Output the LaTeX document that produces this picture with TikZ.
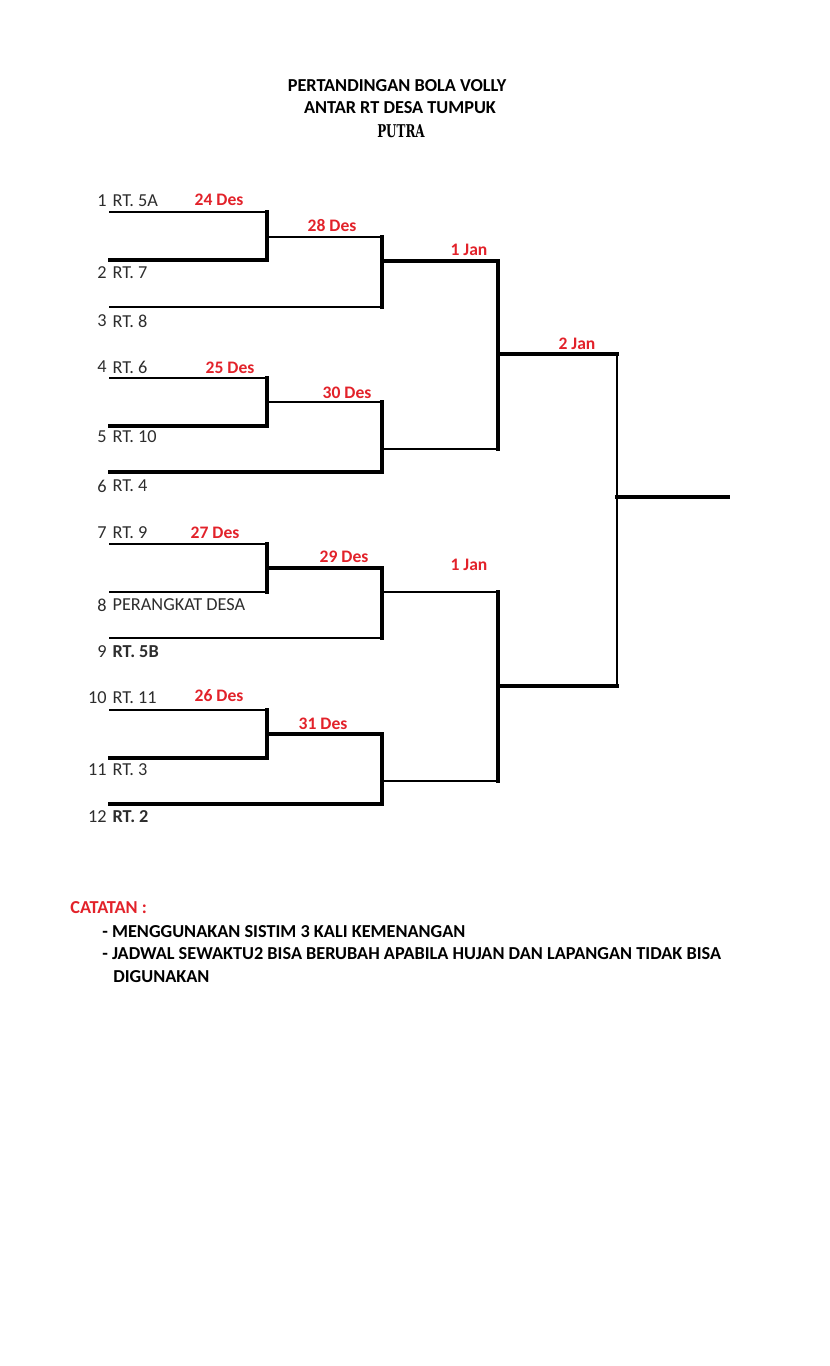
\documentclass[tikz,border=0pt]{standalone}
\usepackage{fontspec}
\usepackage{graphicx}
\setmainfont{Carlito}
\newfontfamily\putrafont{DejaVu Serif}
\usetikzlibrary{positioning}
\definecolor{datered}{RGB}{226,34,42}
\definecolor{teamgray}{RGB}{45,45,45}
\tikzset{
  num/.style={font=\fontsize{10.4}{12}\selectfont, text=teamgray, inner sep=0pt, anchor=east},
  team/.style={font=\fontsize{10.4}{12}\selectfont, text=teamgray, inner sep=0pt},
  dlab/.style={font=\fontsize{10}{12}\selectfont\bfseries, text=datered, inner sep=0pt},
  ttl/.style={font=\fontsize{10.4}{12}\selectfont\bfseries, inner sep=0pt},
  note/.style={font=\fontsize{10.4}{12}\selectfont\bfseries, inner sep=0pt, anchor=west},
  thn/.style={line width=1.1pt, line cap=rect},
  thk/.style={line width=2pt, line cap=rect},
}

\begin{document}
\begin{tikzpicture}[x=0.02cm, y=-0.02cm]
\useasboundingbox (0,0) rectangle (829,1366);
% title
\node[ttl] (title1) at (397,86) {PERTANDINGAN BOLA VOLLY};
\node[ttl] (title2) at (400,108) {ANTAR RT DESA TUMPUK};
\node[inner sep=0pt] (title3) at (401,131) {\scalebox{0.68}[1]{\putrafont\fontsize{10}{12}\selectfont\bfseries PUTRA}};
% teams
\foreach \y/\i/\t in {201/1/{RT. 5A}, 273/2/{RT. 7}, 321/3/{RT. 8},
  367/4/{RT. 6}, 437/5/{RT. 10}, 486/6/{RT. 4},
  533/7/{RT. 9}, 605/8/{PERANGKAT DESA}, 652/9/{\textbf{RT. 5B}},
  698/10/{RT. 11}, 770/11/{RT. 3}, 817/12/{\textbf{RT. 2}}}{
  \node[num] (n\i) at (107,\y) {\i};
  \node[team, right=3pt of n\i] (t\i) {\t};
}
% round 1
\draw[thn] (110,212) -- (267,212);
\draw[thk] (110,260) -- (267,260);
\draw[thk] (267,212) -- (267,260);
\draw[thn] (110,378) -- (267,378);
\draw[thk] (110,426) -- (267,426);
\draw[thk] (267,378) -- (267,426);
\draw[thn] (110,544) -- (267,544);
\draw[thn] (110,592) -- (267,592);
\draw[thk] (267,544) -- (267,592);
\draw[thn] (110,710) -- (267,710);
\draw[thk] (110,758) -- (267,758);
\draw[thk] (267,710) -- (267,758);
% round 2
\draw[thn] (267,237) -- (382,237);
\draw[thn] (110,307) -- (382,307);
\draw[thk] (382,237) -- (382,307);
\draw[thn] (267,402) -- (382,402);
\draw[thk] (110,472) -- (382,472);
\draw[thk] (382,402) -- (382,472);
\draw[thk] (267,568) -- (382,568);
\draw[thn] (110,638) -- (382,638);
\draw[thk] (382,568) -- (382,638);
\draw[thk] (267,734) -- (382,734);
\draw[thk] (110,804) -- (382,804);
\draw[thk] (382,734) -- (382,804);
% semi final
\draw[thk] (382,261) -- (498,261);
\draw[thn] (382,449) -- (498,449);
\draw[thk] (498,261) -- (498,449);
\draw[thn] (382,592) -- (498,592);
\draw[thn] (382,781) -- (498,781);
\draw[thk] (498,592) -- (498,781);
% final
\draw[thk] (498,354) -- (617,354);
\draw[thk] (498,686) -- (617,686);
\draw[thn] (617,354) -- (617,686);
\draw[thk] (617,497) -- (728,497);
% dates
\foreach \x/\y/\d [count=\k] in {219/200/{24 Des}, 332/225/{28 Des}, 230/368/{25 Des},
  347/393/{30 Des}, 215/533/{27 Des}, 344/557/{29 Des}, 219/696/{26 Des},
  323/724/{31 Des}, 469/250/{1 Jan}, 469/565/{1 Jan}, 577/344/{2 Jan}}{
  \node[dlab] (d\k) at (\x,\y) {\d};
}
% notes
\node[note, text=datered] (cat) at (70,908) {CATATAN :};
\node[note] (note1) at (102,932) {- MENGGUNAKAN SISTIM 3 KALI KEMENANGAN};
\node[note] (note2) at (102,954) {- JADWAL SEWAKTU2 BISA BERUBAH APABILA HUJAN DAN LAPANGAN TIDAK BISA};
\node[note] (note3) at (113,977) {DIGUNAKAN};
\end{tikzpicture}
\end{document}
